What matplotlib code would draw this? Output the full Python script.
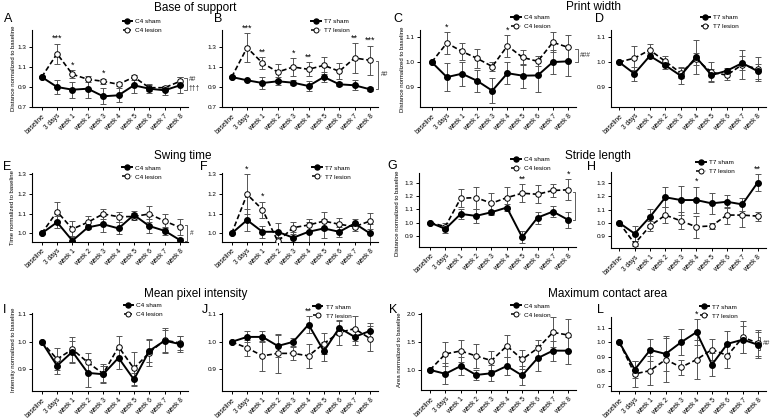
import matplotlib
matplotlib.use('Agg')
import matplotlib.pyplot as plt
from matplotlib.lines import Line2D

plt.rcParams['font.family'] = ['Liberation Sans', 'DejaVu Sans']

# ---------------- data ----------------
timepoints = ['baseline', '3 days', 'week 1', 'week 2', 'week 3', 'week 4',
              'week 5', 'week 6', 'week 7', 'week 8']

# A: Base of support, C4
A_sham = [1.0, 0.90, 0.873, 0.883, 0.807, 0.817, 0.917, 0.883, 0.867, 0.917]
A_sham_err = [0.01, 0.07, 0.08, 0.09, 0.08, 0.07, 0.08, 0.045, 0.045, 0.08]
A_lesion = [1.0, 1.233, 1.027, 0.977, 0.957, 0.927, 1.0, 0.893, 0.893, 0.957]
A_lesion_err = [0.0, 0.10, 0.04, 0.03, 0.025, 0.02, 0.025, 0.03, 0.02, 0.04]
# B: Base of support, T7
B_sham = [1.0, 0.967, 0.94, 0.957, 0.943, 0.91, 1.0, 0.927, 0.917, 0.877]
B_sham_err = [0.01, 0.01, 0.06, 0.04, 0.025, 0.05, 0.05, 0.02, 0.05, 0.02]
B_lesion = [1.0, 1.293, 1.14, 1.05, 1.10, 1.077, 1.117, 1.057, 1.19, 1.167]
B_lesion_err = [0.0, 0.145, 0.06, 0.08, 0.09, 0.07, 0.085, 0.08, 0.15, 0.145]
# C: Print width, C4
C_sham = [1.0, 0.939, 0.953, 0.924, 0.884, 0.955, 0.945, 0.946, 1.0, 1.003]
C_sham_err = [0.0, 0.057, 0.048, 0.045, 0.05, 0.045, 0.048, 0.068, 0.048, 0.06]
C_lesion = [1.0, 1.077, 1.043, 1.015, 0.982, 1.066, 1.019, 1.003, 1.08, 1.06]
C_lesion_err = [0.0, 0.043, 0.035, 0.04, 0.02, 0.044, 0.03, 0.02, 0.04, 0.05]
# D: Print width, T7
D_sham = [1.0, 0.953, 1.025, 0.987, 0.945, 1.02, 0.947, 0.965, 0.996, 0.963]
D_sham_err = [0.0, 0.028, 0.01, 0.015, 0.035, 0.068, 0.025, 0.01, 0.03, 0.03]
D_lesion = [1.0, 1.016, 1.049, 1.003, 0.956, 1.012, 0.959, 0.947, 0.99, 0.972]
D_lesion_err = [0.0, 0.05, 0.024, 0.02, 0.02, 0.025, 0.04, 0.02, 0.06, 0.05]
# E: Swing time, C4
E_sham = [1.0, 1.056, 0.963, 1.03, 1.046, 1.025, 1.093, 1.037, 1.013, 0.966]
E_sham_err = [0.0, 0.03, 0.025, 0.01, 0.04, 0.03, 0.02, 0.035, 0.02, 0.01]
E_lesion = [1.0, 1.11, 1.022, 1.056, 1.098, 1.084, 1.085, 1.098, 1.062, 1.03]
E_lesion_err = [0.0, 0.05, 0.04, 0.03, 0.025, 0.025, 0.02, 0.04, 0.035, 0.04]
# F: Swing time, T7
F_sham = [1.0, 1.067, 1.008, 1.008, 0.978, 1.008, 1.025, 1.008, 1.05, 1.0]
F_sham_err = [0.0, 0.055, 0.03, 0.045, 0.03, 0.05, 0.05, 0.025, 0.025, 0.045]
F_lesion = [1.0, 1.197, 1.12, 0.96, 1.029, 1.042, 1.062, 1.046, 1.034, 1.062]
F_lesion_err = [0.0, 0.10, 0.04, 0.02, 0.03, 0.03, 0.045, 0.03, 0.02, 0.04]
# G: Stride length, C4
G_sham = [1.0, 0.952, 1.066, 1.051, 1.079, 1.115, 0.888, 1.038, 1.084, 1.02]
G_sham_err = [0.0, 0.03, 0.04, 0.055, 0.02, 0.03, 0.045, 0.045, 0.045, 0.06]
G_lesion = [1.0, 0.97, 1.186, 1.19, 1.148, 1.19, 1.224, 1.216, 1.245, 1.25]
G_lesion_err = [0.0, 0.03, 0.07, 0.085, 0.08, 0.085, 0.07, 0.07, 0.05, 0.08]
# H: Stride length, T7
H_sham = [1.0, 0.918, 1.046, 1.194, 1.173, 1.173, 1.148, 1.16, 1.14, 1.306]
H_sham_err = [0.0, 0.055, 0.06, 0.075, 0.11, 0.10, 0.08, 0.05, 0.05, 0.065]
H_lesion = [1.0, 0.842, 0.977, 1.059, 1.015, 0.97, 0.977, 1.059, 1.059, 1.051]
H_lesion_err = [0.0, 0.02, 0.04, 0.06, 0.065, 0.085, 0.02, 0.065, 0.09, 0.035]
# I: Mean pixel intensity, C4
I_sham = [1.0, 0.913, 0.964, 0.887, 0.882, 0.942, 0.863, 0.967, 1.004, 0.992]
I_sham_err = [0.0, 0.03, 0.04, 0.05, 0.03, 0.04, 0.025, 0.04, 0.04, 0.03]
I_lesion = [1.0, 0.937, 0.973, 0.925, 0.884, 0.982, 0.903, 0.961, 1.006, 0.996]
I_lesion_err = [0.0, 0.04, 0.045, 0.035, 0.035, 0.04, 0.06, 0.05, 0.045, 0.025]
# J: Mean pixel intensity, T7
J_sham = [1.0, 1.018, 1.018, 0.985, 1.0, 1.063, 0.966, 1.051, 1.018, 1.04]
J_sham_err = [0.0, 0.02, 0.02, 0.04, 0.015, 0.03, 0.035, 0.025, 0.03, 0.03]
J_lesion = [1.0, 0.978, 0.949, 0.958, 0.958, 0.949, 0.994, 1.034, 1.048, 1.012]
J_lesion_err = [0.0, 0.03, 0.055, 0.07, 0.025, 0.045, 0.04, 0.045, 0.045, 0.045]
# K: Maximum contact area, C4
K_sham = [1.0, 0.93, 1.07, 0.91, 0.94, 1.07, 0.90, 1.21, 1.345, 1.345]
K_sham_err = [0.0, 0.19, 0.16, 0.09, 0.14, 0.17, 0.17, 0.23, 0.18, 0.24]
K_lesion = [1.0, 1.286, 1.34, 1.25, 1.167, 1.43, 1.19, 1.387, 1.673, 1.625]
K_lesion_err = [0.0, 0.22, 0.20, 0.22, 0.17, 0.20, 0.17, 0.15, 0.27, 0.28]
# L: Maximum contact area, T7
L_sham = [1.0, 0.813, 0.947, 0.92, 1.0, 1.069, 0.847, 0.989, 1.018, 0.982]
L_sham_err = [0.0, 0.06, 0.075, 0.12, 0.09, 0.09, 0.08, 0.085, 0.09, 0.09]
L_lesion = [1.0, 0.783, 0.806, 0.881, 0.829, 0.881, 0.95, 0.909, 1.034, 0.993]
L_lesion_err = [0.0, 0.09, 0.10, 0.15, 0.05, 0.135, 0.075, 0.085, 0.11, 0.09]

# significance stars: (timepoint index, label)
A_stars = [(1, '***'), (2, '*'), (4, '*')]
B_stars = [(1, '***'), (2, '**'), (4, '*'), (5, '**'), (8, '**'), (9, '***')]
C_stars = [(1, '*'), (5, '*')]
F_stars = [(1, '*'), (2, '*')]
G_stars = [(6, '**'), (9, '*')]
H_stars = [(5, '*'), (9, '**')]
J_stars = [(5, '**')]
L_stars = [(5, '*')]

# group-effect brackets: (y low, y high, [(label, y), ...])
A_bracket = (0.875, 0.99, [('##', 0.978), ('†††', 0.884)])
B_bracket = (0.877, 1.163, [('##', 1.02)])
C_bracket = (1.0, 1.055, [('###', 1.028)])
E_bracket = (0.962, 1.04, [('#', 1.0)])
G_bracket = (1.02, 1.236, [])
L_bracket = (0.947, 1.038, [('##', 0.99)])

titles = ['Base of support', 'Print width', 'Swing time', 'Stride length',
          'Mean pixel intensity', 'Maximum contact area']

# ---------------- layout ----------------
W, H = 772, 418
fig = plt.figure(figsize=(W / 100, H / 100), dpi=100)


def fx(x):
    return x / W


def fy(y):
    return 1 - y / H


ERRC = '#555555'

# xpx: (y-axis pixel, baseline pixel, week 8 pixel); ypx: (top, bottom)
panels = [
    dict(l='A', xpx=(31.7, 41.7, 180), ypx=(30, 107), sham=A_sham, se=A_sham_err, les=A_lesion, le=A_lesion_err,
         ylim=(0.7, 1.47), yt=[0.7, 0.9, 1.1, 1.3], grp='C4', leg=(128, 23), stars=A_stars,
         br=A_bracket, brpx=186.5, ylab='Distance normalized to baseline', ylx=13.2, yly=68, lp=(4, 19)),
    dict(l='B', xpx=(221.7, 231.7, 370), ypx=(30, 107), sham=B_sham, se=B_sham_err, les=B_lesion, le=B_lesion_err,
         ylim=(0.7, 1.47), yt=[0.7, 0.9, 1.1, 1.3], grp='T7', leg=(316.7, 23), stars=B_stars,
         br=B_bracket, brpx=378.3, ylab=None, lp=(214, 19)),
    dict(l='C', xpx=(420, 431.7, 568), ypx=(30, 107), sham=C_sham, se=C_sham_err, les=C_lesion, le=C_lesion_err,
         ylim=(0.818, 1.13), yt=[0.9, 1.0, 1.1], grp='C4', leg=(516.7, 19), stars=C_stars,
         br=C_bracket, brpx=577.7, ylab='Distance normalized to baseline', ylx=402.5, yly=69, lp=(393, 19)),
    dict(l='D', xpx=(610.7, 619, 757.7), ypx=(30, 107), sham=D_sham, se=D_sham_err, les=D_lesion, le=D_lesion_err,
         ylim=(0.818, 1.13), yt=[0.9, 1.0, 1.1], grp='T7', leg=(706, 19), stars=[],
         br=None, ylab=None, lp=(595, 19)),
    dict(l='E', xpx=(31.7, 41.7, 180), ypx=(173.3, 241.7), sham=E_sham, se=E_sham_err, les=E_lesion, le=E_lesion_err,
         ylim=(0.958, 1.303), yt=[1.0, 1.1, 1.2, 1.3], grp='C4', leg=(127.7, 169.3), stars=[],
         br=E_bracket, brpx=187.3, ylab='Time normalized to baseline', ylx=13, yly=208, lp=(3, 167)),
    dict(l='F', xpx=(222.3, 231.7, 370), ypx=(173.3, 241.7), sham=F_sham, se=F_sham_err, les=F_lesion, le=F_lesion_err,
         ylim=(0.958, 1.303), yt=[1.0, 1.1, 1.2, 1.3], grp='T7', leg=(317.7, 169.3), stars=F_stars,
         br=None, ylab=None, lp=(200, 167)),
    dict(l='G', xpx=(419.3, 430, 568.3), ypx=(173.3, 246.7), sham=G_sham, se=G_sham_err, les=G_lesion, le=G_lesion_err,
         ylim=(0.816, 1.376), yt=[0.9, 1.0, 1.1, 1.2, 1.3], grp='C4', leg=(516.7, 161), stars=G_stars,
         br=G_bracket, brpx=575, ylab='Distance normalized to baseline', ylx=397, yly=213, lp=(387, 166)),
    dict(l='H', xpx=(611, 619.3, 757.7), ypx=(171.7, 248.3), sham=H_sham, se=H_sham_err, les=H_lesion, le=H_lesion_err,
         ylim=(0.807, 1.388), yt=[0.9, 1.0, 1.1, 1.2, 1.3], grp='T7', leg=(701.7, 164), stars=H_stars,
         br=None, ylab=None, lp=(587, 167)),
    dict(l='I', xpx=(32.3, 41.7, 180), ypx=(313.3, 391), sham=I_sham, se=I_sham_err, les=I_lesion, le=I_lesion_err,
         ylim=(0.821, 1.104), yt=[0.9, 1.0, 1.1], grp='C4', leg=(129, 306.7), stars=[],
         br=None, ylab='Intensity normalized to baseline', ylx=13.5, yly=350, lp=(3, 310)),
    dict(l='J', xpx=(222.3, 231.7, 370), ypx=(313.3, 391), sham=J_sham, se=J_sham_err, les=J_lesion, le=J_lesion_err,
         ylim=(0.821, 1.104), yt=[0.9, 1.0, 1.1], grp='T7', leg=(318.3, 308.3), stars=J_stars,
         br=None, ylab=None, lp=(202, 310)),
    dict(l='K', xpx=(420.7, 430, 568.3), ypx=(313, 390), sham=K_sham, se=K_sham_err, les=K_lesion, le=K_lesion_err,
         ylim=(0.64, 2.02), yt=[1.0, 1.5, 2.0], grp='C4', leg=(516.7, 307.3), stars=[],
         br=None, ylab='Area normalized to baseline', ylx=400, yly=350, lp=(389, 310)),
    dict(l='L', xpx=(611, 619.3, 758.3), ypx=(316.7, 391), sham=L_sham, se=L_sham_err, les=L_lesion, le=L_lesion_err,
         ylim=(0.666, 1.175), yt=[0.7, 0.8, 0.9, 1.0, 1.1], grp='T7', leg=(705, 308.3), stars=L_stars,
         br=L_bracket, brpx=760, ylab=None, lp=(597, 310)),
]

x = list(range(len(timepoints)))

for p in panels:
    axpx, b0, b9 = p['xpx']
    s = (b9 - b0) / 9.0
    l, r = axpx, b9 + 8
    t, b = p['ypx']
    ax = fig.add_axes([fx(l), fy(b), fx(r) - fx(l), fy(t) - fy(b)])
    ax.set_xlim(-(b0 - axpx) / s, 9 + 8 / s)

    def px2x(px):
        return (px - b0) / s

    # error bars
    ax.errorbar(x, p['les'], yerr=p['le'], fmt='none', ecolor=ERRC, elinewidth=0.7,
                capsize=2.0, capthick=0.7, zorder=1)
    ax.errorbar(x, p['sham'], yerr=p['se'], fmt='none', ecolor=ERRC, elinewidth=0.7,
                capsize=2.0, capthick=0.7, zorder=1)
    ax.plot(x, p['les'], color='black', lw=1.2, ls=(0, (3, 1.6)), marker='o',
            ms=4.0, mfc='white', mec='black', mew=0.7, zorder=3)
    ax.plot(x, p['sham'], color='black', lw=1.4, ls='-', marker='o',
            ms=4.0, mfc='black', mec='black', zorder=4)
    ax.set_ylim(*p['ylim'])
    ax.set_yticks(p['yt'])
    ax.set_yticklabels([f'{v:.1f}' for v in p['yt']], fontsize=4.6)
    ax.set_xticks(x)
    ax.set_xticklabels(timepoints, rotation=45, ha='right', rotation_mode='anchor', fontsize=4.8)
    for sp in ['top', 'right']:
        ax.spines[sp].set_visible(False)
    for sp in ['left', 'bottom']:
        ax.spines[sp].set_linewidth(0.8)
    ax.tick_params(axis='both', direction='out', length=2.5, width=0.7, pad=1.5)
    ax.patch.set_alpha(0)

    # legend
    mx, my = p['leg']
    h1 = Line2D([], [], color='black', lw=1.4, marker='o', ms=3.6, mfc='black', mec='black')
    h2 = Line2D([], [], color='black', lw=1.1, ls=(0, (2, 1.2)), marker='o', ms=3.6,
                mfc='white', mec='black', mew=0.7)
    fig.legend([h1, h2], [p['grp'] + ' sham', p['grp'] + ' lesion'], loc='upper left',
               bbox_to_anchor=(fx(mx - 5.5), fy(my - 4.2)), frameon=False, fontsize=4.6,
               handlelength=1.5, handletextpad=0.5, borderpad=0, borderaxespad=0,
               labelspacing=0.55)

    # stars
    for idx, txt in p['stars']:
        top = max(p['sham'][idx] + p['se'][idx], p['les'][idx] + p['le'][idx])
        ax.annotate(txt, (idx, top), xytext=(0, 0.5), textcoords='offset points',
                    ha='center', va='bottom', fontsize=6.5, annotation_clip=False)

    # bracket
    if p['br'] is not None:
        lo, hi, labs = p['br']
        bx = px2x(p['brpx'])
        tick = 2.5 / s
        ax.plot([bx - tick, bx, bx, bx - tick], [hi, hi, lo, lo], color='#444444',
                lw=0.6, clip_on=False)
        for lab, yy in labs:
            ax.text(bx + 2.5 / s, yy, lab, fontsize=4.8, ha='left', va='center', color='#333333',
                    clip_on=False)

    # y label
    if p['ylab']:
        fig.text(fx(p['ylx']), fy(p['yly']), p['ylab'], rotation=90, ha='center',
                 va='center', fontsize=4.3)

    # panel letter
    fig.text(fx(p['lp'][0]), fy(p['lp'][1]), p['l'], fontsize=9, ha='left', va='center')

# titles
title_pos = [(154, 8), (566, 7), (154, 156), (565, 156), (144, 294), (548, 294)]
for ttl, (tx, ty) in zip(titles, title_pos):
    fig.text(fx(tx), fy(ty), ttl, fontsize=8.5, ha='left', va='center')

fig.savefig('out.png', dpi=100)
